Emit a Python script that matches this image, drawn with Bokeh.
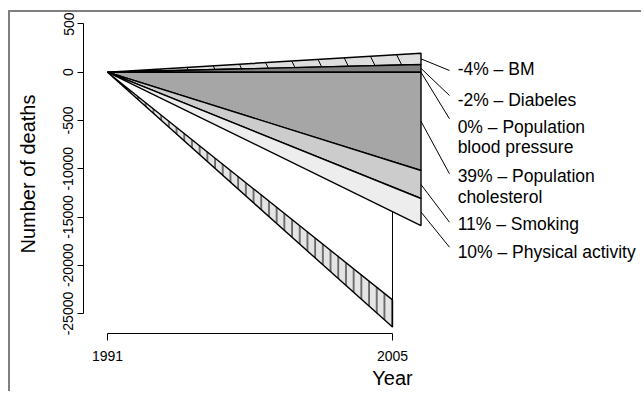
from bokeh.plotting import figure
from bokeh.models import FixedTicker, LinearAxis, Range1d
from bokeh.embed import file_html
from bokeh.resources import INLINE
from bokeh.core.properties import value

# ---------------- data ----------------
x_ticks = [1991, 2005]
start_year = 1991
end_year = 2005
contrib_year = 2006.4                     # where the stacked contributions are drawn
factor_names = ["BM", "Diabeles", "Population\nblood pressure",
                "Population\ncholesterol", "Smoking", "Physical activity"]
factor_pct = [-4, -2, 0, 39, 11, 10]
factor_deaths = [1171, 797, 0, -10182, -2901, -2797]
observed_upper = -23580
observed_lower = -26400
y_ticks = [5000, 0, -5000, -10000, -15000, -20000, -25000]
y_tick_labels = ["500", "0", "-500", "-10000", "-15000", "-20000", "-25000"]
x_title = "Year"
y_title = "Number of deaths"

# ---------------- layout / style ----------------
FONT = "Liberation Sans"
band_fill = ["#dedede", "#7f7f7f", "#a6a6a6", "#a6a6a6", "#cccccc", "#ededed"]
band_hatch = ["\\", " ", " ", " ", " ", " "]
label_y = [[280], [-2828], [-5625, -7696], [-10803, -12978], [-15775], [-18624]]
leader_end_y = [176, -2414, -4827, -10524, -15538, -18127]
leader_end_x = 2007.8
text_x = 2008.2

p = figure(width=633, height=381,
           x_range=Range1d(1989.821, 2017.33),
           y_range=Range1d(-27066, 5977),
           output_backend="svg", toolbar_location=None,
           min_border_left=73, min_border_right=0,
           min_border_top=2, min_border_bottom=60)
p.styles = {"border-top": "2px solid #7f7f7f", "border-left": "2px solid #7f7f7f",
            "margin-top": "10px", "margin-left": "8px"}
p.grid.visible = False
p.outline_line_color = None
p.background_fill_color = "white"

# stacked bands (triangles from the 1991 origin)
tops, bottoms = [0.0] * 6, [0.0] * 6
acc = 0.0
for i in reversed(range(len(factor_deaths))):
    if factor_deaths[i] > 0:
        bottoms[i] = acc
        acc += factor_deaths[i]
        tops[i] = acc
acc = 0.0
for i in range(len(factor_deaths)):
    if factor_deaths[i] <= 0:
        tops[i] = acc
        acc += factor_deaths[i]
        bottoms[i] = acc
stack_bottom = acc

for i in range(len(factor_deaths)):
    if tops[i] == bottoms[i]:
        continue
    p.patch([start_year, contrib_year, contrib_year], [0, tops[i], bottoms[i]],
            fill_color=band_fill[i], line_color="black", line_width=1.4,
            hatch_pattern=band_hatch[i], hatch_color="black", hatch_scale=54,
            hatch_weight=1)

# observed decline wedge
p.patch([start_year, end_year, end_year], [0, observed_upper, observed_lower],
        fill_color="#e4e4e4", line_color="black", line_width=1.4,
        hatch_pattern="|", hatch_color="black", hatch_scale=7.7, hatch_weight=1)

# connector at 2005
conn_top = stack_bottom * (end_year - start_year) / (contrib_year - start_year)
p.segment(x0=[end_year], y0=[conn_top], x1=[end_year], y1=[observed_lower],
          line_color="black", line_width=1)

# leader lines and labels
mids = [(t + b) / 2 for t, b in zip(tops, bottoms)]
p.segment(x0=[contrib_year] * 6, y0=mids, x1=[leader_end_x] * 6, y1=leader_end_y,
          line_color="black", line_width=1)

tx, ty, tt = [], [], []
for pct, name, ys in zip(factor_pct, factor_names, label_y):
    lines = name.split("\n")
    lines[0] = f"{pct}% \u2013 {lines[0]}"
    for line, yy in zip(lines, ys):
        tx.append(text_x)
        ty.append(yy)
        tt.append(line)
p.text(x=tx, y=ty, text=tt, text_font=value(FONT), text_font_size="17.5px",
       text_align="left", text_baseline="middle", text_color="black")

# axes
xa = p.xaxis[0]
xa.bounds = (x_ticks[0], x_ticks[-1])
xa.ticker = FixedTicker(ticks=x_ticks)
xa.minor_tick_line_color = None
xa.major_tick_in = 0
xa.major_tick_out = 7
xa.major_label_standoff = 10
xa.major_label_text_font = FONT
xa.major_label_text_font_size = "14px"
xa.major_label_text_color = "black"
xa.axis_line_color = "black"
xa.major_tick_line_color = "black"

# x title, drawn as a tick label of a second bottom axis so that it sits under 2005
xt = LinearAxis(ticker=FixedTicker(ticks=[end_year]),
                major_label_overrides={end_year: x_title},
                axis_line_color=None, major_tick_line_color=None,
                minor_tick_line_color=None, major_tick_in=0, major_tick_out=0,
                major_label_standoff=3, major_label_text_font=FONT,
                major_label_text_font_size="20px", major_label_text_color="black")
p.add_layout(xt, "below")

ya = p.yaxis[0]
ya.bounds = (y_ticks[-1], y_ticks[0])
ya.ticker = FixedTicker(ticks=y_ticks)
ya.major_label_overrides = {t: s for t, s in zip(y_ticks, y_tick_labels)}
ya.major_label_orientation = "vertical"
ya.minor_tick_line_color = None
ya.major_tick_in = 0
ya.major_tick_out = 6
ya.major_label_standoff = 4
ya.major_label_text_font = FONT
ya.major_label_text_font_size = "14px"
ya.major_label_text_color = "black"
ya.axis_line_color = "black"
ya.major_tick_line_color = "black"
ya.axis_label = y_title
ya.axis_label_text_font = FONT
ya.axis_label_text_font_size = "20px"
ya.axis_label_text_font_style = "normal"
ya.axis_label_text_color = "black"
ya.axis_label_standoff = 22

open("out.html", "w").write(file_html(p, INLINE))
